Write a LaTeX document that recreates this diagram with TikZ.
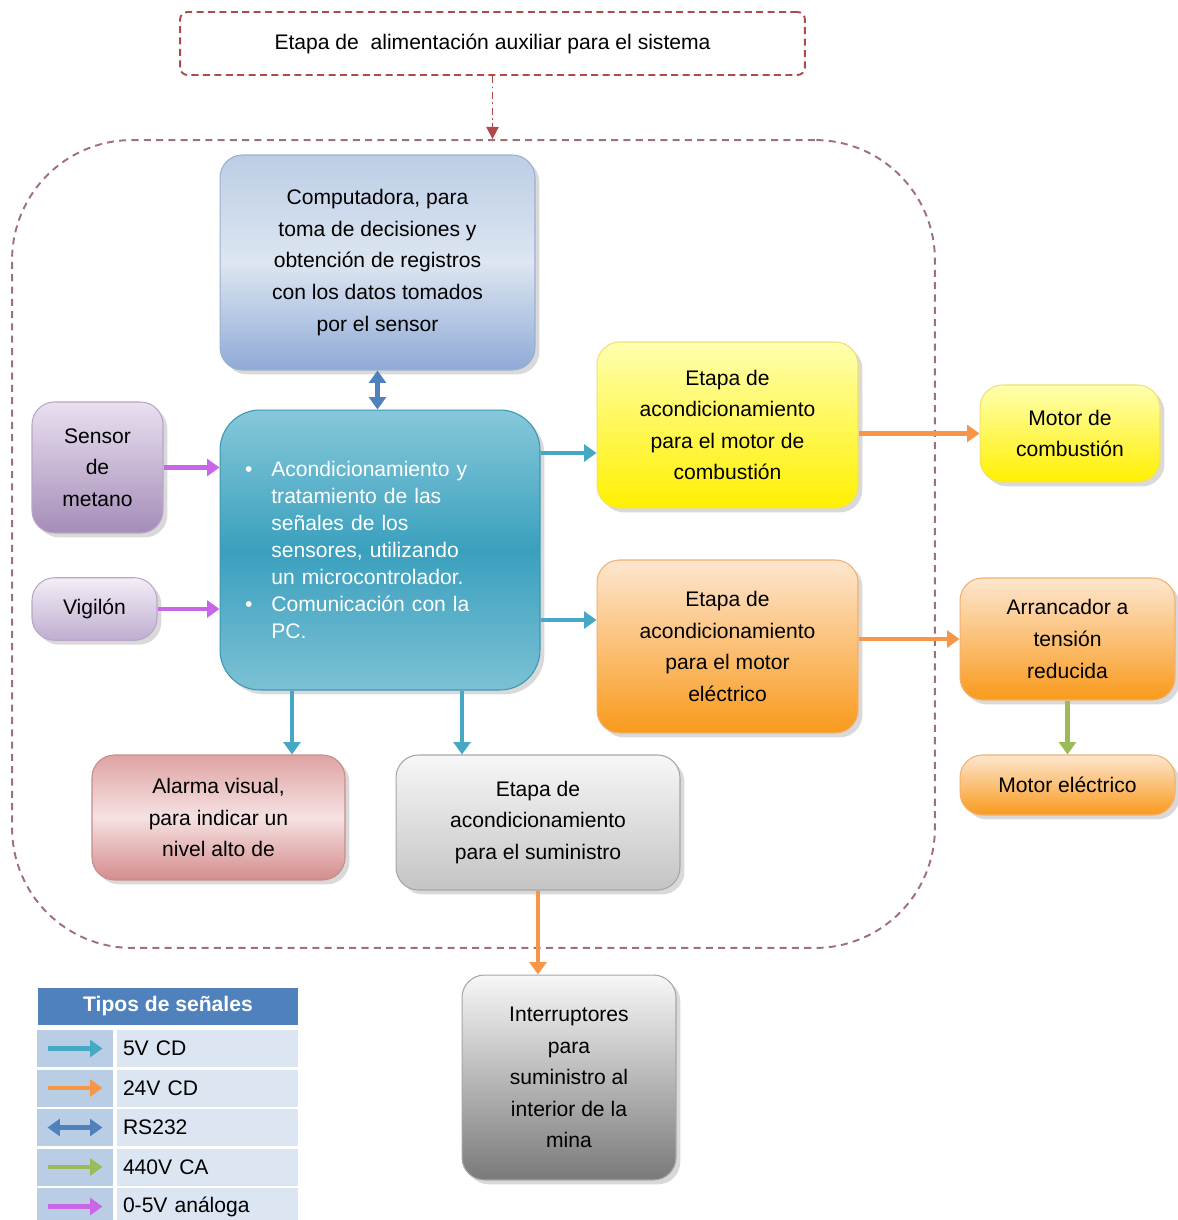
\documentclass[tikz,border=0pt]{standalone}
\usepackage{fontspec}
\setmainfont{Liberation Sans}
\usetikzlibrary{arrows.meta,shadows}

\definecolor{pcTop}{HTML}{BCCDE5}
\definecolor{pcMid}{HTML}{DDE6F1}
\definecolor{pcBot}{HTML}{8FAAD6}
\definecolor{pcLine}{HTML}{9AB0D0}
\definecolor{mcuTop}{HTML}{86C8DA}
\definecolor{mcuMid}{HTML}{3AA0BE}
\definecolor{mcuBot}{HTML}{7CC1D5}
\definecolor{mcuLine}{HTML}{3A97B2}
\definecolor{senTop}{HTML}{E9E0F0}
\definecolor{senBot}{HTML}{A48DB8}
\definecolor{senLine}{HTML}{B8A6C8}
\definecolor{vigTop}{HTML}{F3EEF7}
\definecolor{vigBot}{HTML}{BFAED0}
\definecolor{yelTop}{HTML}{FFFFB0}
\definecolor{yelBot}{HTML}{FFF000}
\definecolor{yelLine}{HTML}{F0E070}
\definecolor{orTop}{HTML}{FDE6CF}
\definecolor{orBot}{HTML}{F99A1C}
\definecolor{orLine}{HTML}{F3B070}
\definecolor{alTop}{HTML}{DFA3A3}
\definecolor{alMid}{HTML}{F6E1E1}
\definecolor{alBot}{HTML}{D48C8C}
\definecolor{alLine}{HTML}{C88C8C}
\definecolor{grTop}{HTML}{F7F7F7}
\definecolor{grBot}{HTML}{C4C4C4}
\definecolor{grLine}{HTML}{A6A6A6}
\definecolor{dkBot}{HTML}{7A7A7A}
\definecolor{c5}{HTML}{45A8C4}
\definecolor{c24}{HTML}{F79646}
\definecolor{crs}{HTML}{4F81BD}
\definecolor{c440}{HTML}{9BBB59}
\definecolor{can}{HTML}{C966E8}
\definecolor{auxRed}{HTML}{B04A4A}
\definecolor{sysC}{HTML}{A0707A}
\definecolor{legHead}{HTML}{4F81BD}
\definecolor{legKey}{HTML}{B9CDE5}
\definecolor{legTxt}{HTML}{DCE6F2}

\newcommand{\bfont}{\fontsize{12}{18}\selectfont}
\newcommand{\mcufont}{\fontsize{12}{15.3}\selectfont}
\newcommand{\itm}{\makebox[15pt][l]{\textbullet}}
\newcommand{\ind}{\hspace*{15pt}}

\begin{document}
\begin{tikzpicture}[x=0.02cm,y=-0.02cm,font=\bfont]
\tikzstyle{blk}=[rounded corners=0.45cm,align=center,inner sep=2pt,line width=0.6pt,
  drop shadow={shadow xshift=2.5pt,shadow yshift=-2.5pt,opacity=0.3}]
\tikzstyle{pcblk}=[blk,draw=pcLine,top color=pcTop,bottom color=pcBot,middle color=pcMid]
\tikzstyle{mcublk}=[blk,rounded corners=0.8cm,draw=mcuLine,top color=mcuTop,bottom color=mcuBot,middle color=mcuMid]
\tikzstyle{sensblk}=[blk,draw=senLine,top color=senTop,bottom color=senBot]
\tikzstyle{yelblk}=[blk,draw=yelLine,top color=yelTop,bottom color=yelBot]
\tikzstyle{orblk}=[blk,draw=orLine,top color=orTop,bottom color=orBot]
\tikzstyle{alblk}=[blk,draw=alLine,top color=alTop,bottom color=alBot,middle color=alMid]
\tikzstyle{grblk}=[blk,draw=grLine,top color=grTop,bottom color=grBot]
\tikzstyle{dkblk}=[blk,draw=grLine,top color=grTop,bottom color=dkBot]
\tikzstyle{auxbox}=[draw=auxRed,line width=1.1pt,dash pattern=on 4pt off 2.5pt,rounded corners=0.15cm]
\tikzstyle{sysbox}=[draw=sysC,line width=1.1pt,dash pattern=on 4pt off 3pt,rounded corners=2.4cm]
\tikzstyle{auxarrow}=[draw=auxRed,line width=1pt,dash pattern=on 4pt off 2pt on 1pt off 2pt,-{Triangle[length=7pt,width=7pt]}]
\tikzstyle{sig}=[line width=2.7pt,-{Triangle[length=7pt,width=9.5pt]}]
\tikzstyle{s5}=[sig,draw=c5]
\tikzstyle{s24}=[sig,draw=c24]
\tikzstyle{rs}=[sig,draw=crs,{Triangle[length=7pt,width=9.5pt]}-{Triangle[length=7pt,width=9.5pt]}]
\tikzstyle{s440}=[sig,draw=c440]
\tikzstyle{sa}=[sig,draw=can]
\tikzstyle{legtitle}=[fill=legHead,text=white,font=\bfont\bfseries,minimum width=5.2cm,minimum height=0.74cm,inner sep=0pt]
\tikzstyle{legkey}=[fill=legKey,minimum width=1.52cm,minimum height=0.74cm,inner sep=0pt]
\tikzstyle{legtxt}=[fill=legTxt,minimum height=0.74cm,text width=3.38cm,inner xsep=0.12cm,inner ysep=0pt,align=left]

\useasboundingbox (0,0) rectangle (1177,1220);

\node[sysbox,minimum width=18.46cm,minimum height=16.16cm] (sys) at (473.5,544) {};
\node[auxbox,minimum width=12.5cm,minimum height=1.26cm] (aux) at (492.5,43.5) {Etapa de\ \ alimentación auxiliar para el sistema};

\node[pcblk,minimum width=6.3cm,minimum height=4.3cm] (pc) at (377.5,262.5)
  {Computadora, para\\toma de decisiones y\\obtención de registros\\con los datos tomados\\por el sensor};
\node[mcublk,minimum width=6.4cm,minimum height=5.6cm,text width=5.4cm,inner xsep=0.5cm,align=left,text=white,font=\mcufont] (mcu) at (380,550)
  {\itm Acondicionamiento y\\\ind tratamiento de las\\\ind señales de los\\\ind sensores, utilizando\\\ind un microcontrolador.\\\itm Comunicación con la\\\ind PC.};
\node[sensblk,minimum width=2.62cm,minimum height=2.62cm] (sensor) at (97.5,467.5) {Sensor\\de\\metano};
\node[sensblk,top color=vigTop,bottom color=vigBot,minimum width=2.5cm,minimum height=1.25cm] (vig) at (94.5,609) {Vigilón};
\node[yelblk,minimum width=5.22cm,minimum height=3.32cm] (etcomb) at (727.5,425) {Etapa de\\acondicionamiento\\para el motor de\\combustión};
\node[orblk,minimum width=5.22cm,minimum height=3.46cm] (etelec) at (727.5,646.5) {Etapa de\\acondicionamiento\\para el motor\\eléctrico};
\node[yelblk,minimum width=3.6cm,minimum height=1.94cm] (mcomb) at (1070,433.5) {Motor de\\combustión};
\node[orblk,minimum width=4.3cm,minimum height=2.44cm] (arr) at (1067.5,639) {Arrancador a\\tensión\\reducida};
\node[orblk,minimum width=4.3cm,minimum height=1.2cm] (melec) at (1067.5,785) {Motor eléctrico};
\node[alblk,minimum width=5.06cm,minimum height=2.5cm] (alarma) at (218.5,817.5) {Alarma visual,\\para indicar un\\nivel alto de};
\node[grblk,minimum width=5.68cm,minimum height=2.7cm] (etsum) at (538,822.5) {Etapa de\\acondicionamiento\\para el suministro};
\node[dkblk,minimum width=4.28cm,minimum height=4.1cm] (inter) at (569,1077.5) {Interruptores\\para\\suministro al\\interior de la\\mina};

\draw[auxarrow] (aux.south) -- (aux.south |- sys.north);
\draw[rs] (pc.south) -- (pc.south |- mcu.north);
\draw[sa] (sensor.east) -- (mcu.west |- sensor.east);
\draw[sa] (vig.east) -- (mcu.west |- vig.east);
\coordinate (in1) at ([yshift=-0.56cm]etcomb.west);
\coordinate (in2) at ([yshift=0.53cm]etelec.west);
\coordinate (in3) at ([xshift=1.47cm]alarma.north);
\coordinate (in4) at ([xshift=-1.52cm]etsum.north);
\draw[s5] (mcu.east |- in1) -- (in1);
\draw[s5] (mcu.east |- in2) -- (in2);
\draw[s5] (mcu.south -| in3) -- (in3);
\draw[s5] (mcu.south -| in4) -- (in4);
\draw[s24] (etcomb.east |- mcomb.west) -- (mcomb.west);
\draw[s24] (etelec.east |- arr.west) -- (arr.west);
\draw[s440] (arr.south) -- (arr.south |- melec.north);
\draw[s24] (etsum.south) -- (etsum.south |- inter.north);

% legend
\node[legtitle] (leg) at (168,1006.5) {Tipos de señales};
\foreach \txt/\sty [count=\i] in {5V CD/s5, 24V CD/s24, RS232/rs, 440V CA/s440, 0-5V análoga/sa}
{
  \node[legkey] (k\i) at (75,1009+\i*39.5) {};
  \node[legtxt] (t\i) at (207.5,1009+\i*39.5) {\txt};
  \draw[\sty] ([xshift=-0.55cm]k\i.center) -- ([xshift=0.55cm]k\i.center);
}
\end{tikzpicture}
\end{document}
